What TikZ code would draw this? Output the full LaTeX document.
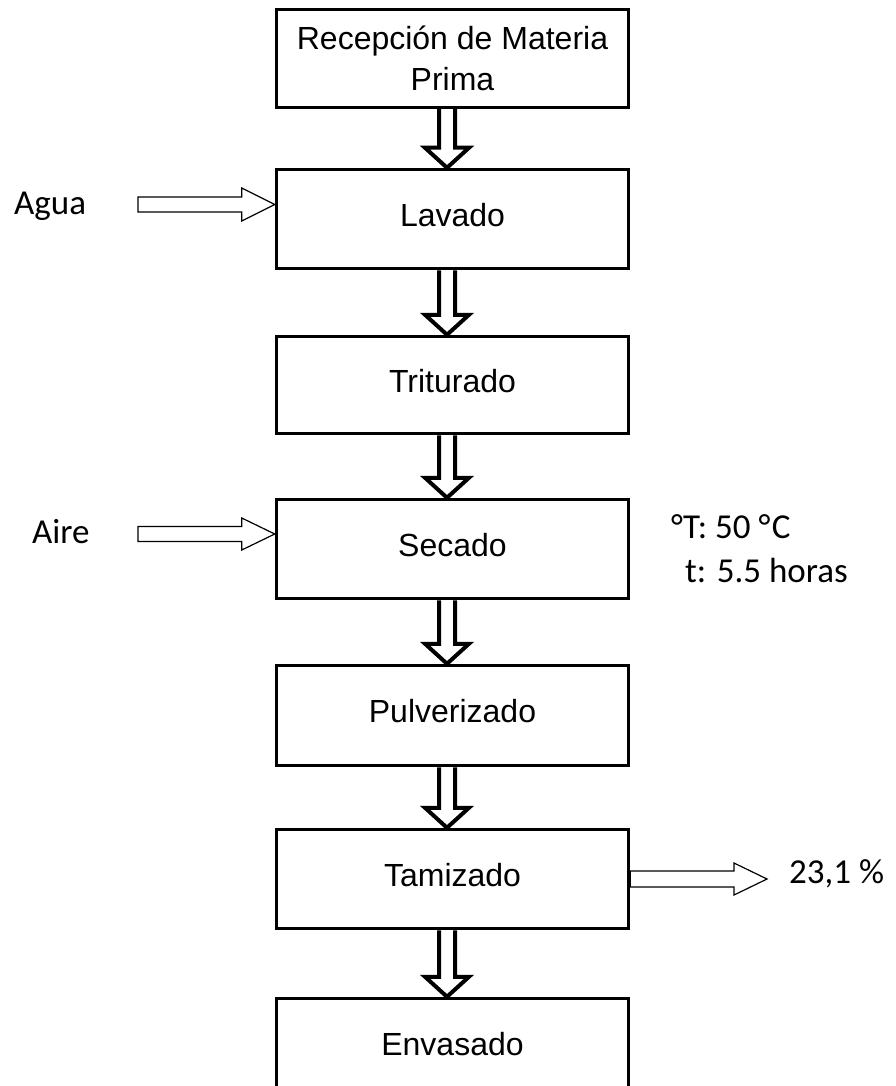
\documentclass[tikz,border=0pt]{standalone}
\usepackage{fontspec}
\setmainfont{Liberation Sans}
\newfontfamily\calfont{Carlito}
\usetikzlibrary{calc}
\tikzset{
  box/.style={draw, line width=3.5pt, minimum width=352pt, inner sep=0pt, align=center, font=\fontsize{32}{41}\selectfont},
  boxtxt/.style={box, text height=23pt, text depth=9pt},
  fat/.style={line width=4pt, line join=miter},
  thinarrow/.style={line width=1.2pt, line join=miter},
  side/.style={font=\calfont\fontsize{35}{42}\selectfont, anchor=base west, inner sep=0pt},
}
\newcommand\fatdown[2]{%
  \draw[fat] let \p1=(#1.south), \p2=(#2.north) in
    (\x1-13.5pt,\y1) -- (\x1-13.5pt,\y2+20pt) -- (\x1-27.5pt,\y2+20pt) -- (\x1-5.5pt,\y2)
    -- (\x1+16.5pt,\y2+20pt) -- (\x1+2.5pt,\y2+20pt) -- (\x1+2.5pt,\y1);}
\newcommand\thinright[4]{% start, tip, shaft half-height, head half-height
  \draw[thinarrow] let \p1=(#1), \p2=(#2) in
    (\x1,\y1+#3) -- (\x2-33pt,\y1+#3) -- (\x2-33pt,\y1+#4) -- (\x2,\y1)
    -- (\x2-33pt,\y1-#4) -- (\x2-33pt,\y1-#3) -- (\x1,\y1-#3) -- cycle;}
\begin{document}
\begin{tikzpicture}[x=1pt,y=-1pt]
\clip (0,0) rectangle (895,1086);
\fill[white] (0,0) rectangle (895,1086);
% boxes
\node[box, minimum height=98pt] (rec) at (452.5,58.5) {Recepción de Materia\\Prima};
\node[boxtxt, minimum height=99pt] (lav) at (452.5,219) {Lavado};
\node[boxtxt, minimum height=97pt] (tri) at (452.5,385) {Triturado};
\node[boxtxt, minimum height=99pt] (sec) at (452.5,549) {Secado};
\node[boxtxt, minimum height=100pt] (pul) at (452.5,715.5) {Pulverizado};
\node[boxtxt, minimum height=99pt] (tam) at (452.5,879) {Tamizado};
\node[boxtxt, minimum height=99pt] (env) at (452.5,1048) {Envasado};
% main flow arrows
\fatdown{rec}{lav}
\fatdown{lav}{tri}
\fatdown{tri}{sec}
\fatdown{sec}{pul}
\fatdown{pul}{tam}
\fatdown{tam}{env}
% inputs / outputs
\coordinate (aguaS) at (138,204.5);
\coordinate (aguaT) at ([yshift=14.5pt]lav.west);
\coordinate (aireS) at (138,534);
\coordinate (aireT) at ([yshift=15pt]sec.west);
\coordinate (outT) at (767,879);
\thinright{aguaS}{aguaT}{7.5pt}{16.5pt}
\thinright{aireS}{aireT}{7.5pt}{16pt}
\thinright{tam.east}{outT}{8pt}{16pt}
% labels
\node[side] (agua) at (14,214) {Agua};
\node[side] (aire) at (32,543) {Aire};
\node[side] (temp) at (671,538) {°T: 50 °\kern1.5pt C};
\node[side] (time) at (685,582) {t: 5.5 horas};
\node[side] (pct) at (789,883) {23,1 \%};
\end{tikzpicture}
\end{document}
